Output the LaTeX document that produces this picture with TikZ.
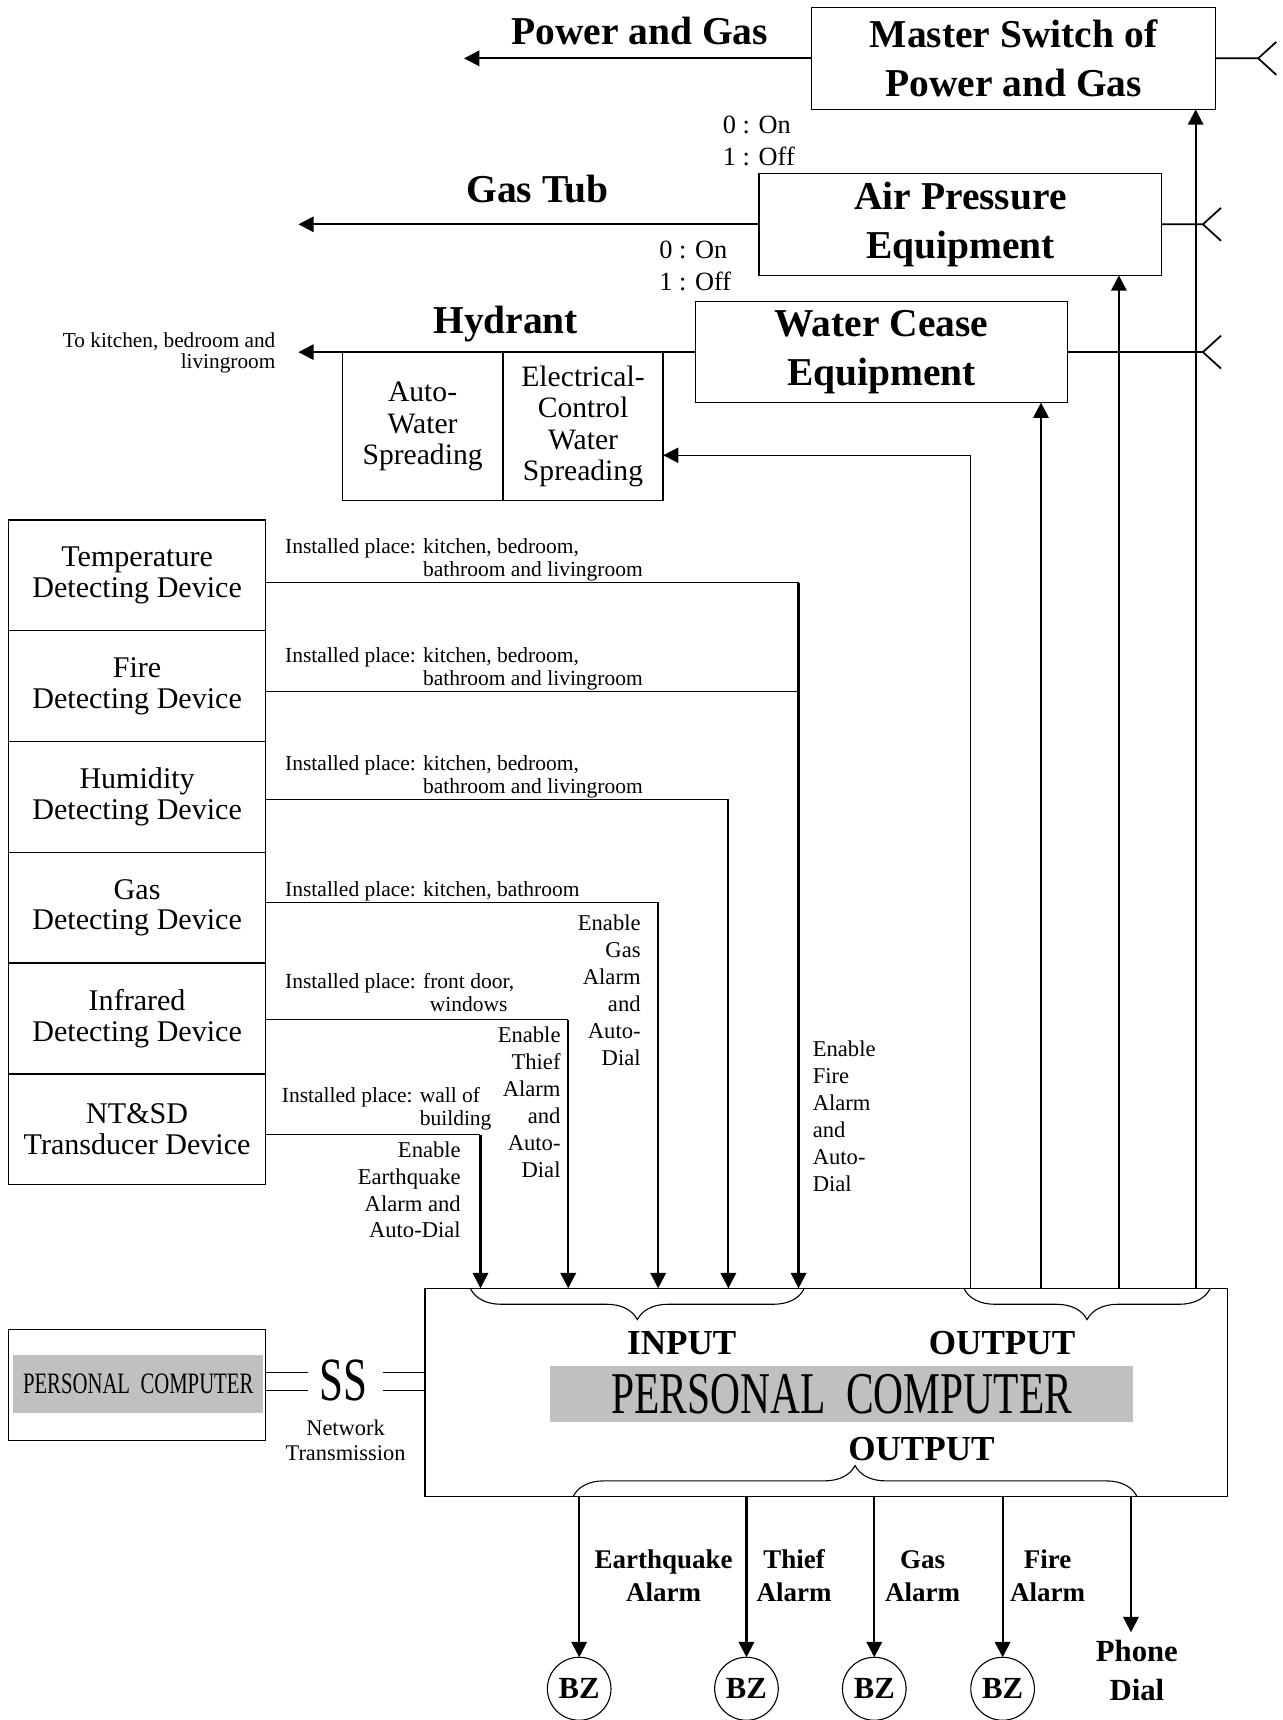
\documentclass[tikz,border=0pt]{standalone}
\usepackage{fontspec}
\setmainfont{Liberation Serif}
\newfontfamily\narrowfont{Liberation Serif}[FakeStretch=0.7]
\usetikzlibrary{arrows.meta,shapes.geometric,decorations.pathreplacing}
\definecolor{pcgray}{RGB}{192,192,192}

\begin{document}
\begin{tikzpicture}[x=0.5pt,y=-0.5pt,
  every node/.style={inner sep=0pt,outer sep=0pt},
  box/.style={draw,line width=0.6pt,align=center},
  bigbox/.style={box,font=\bfseries\fontsize{18}{22.3}\selectfont},
  devbox/.style={box,minimum width=117pt,minimum height=50.5pt,font=\fontsize{13.7}{14}\selectfont},
  subbox/.style={box,minimum width=73pt,minimum height=67.25pt,font=\fontsize{13.5}{14.2}\selectfont},
  head/.style={font=\bfseries\fontsize{18}{22}\selectfont,anchor=base},
  note/.style={font=\fontsize{9.8}{10.35}\selectfont,anchor=base west},
  enable/.style={font=\fontsize{10.3}{12.25}\selectfont},
  onoff/.style={font=\fontsize{12}{14.5}\selectfont,align=left,anchor=base west},
  alarm/.style={font=\bfseries\fontsize{12.3}{14.75}\selectfont,align=center,anchor=base},
  io/.style={font=\bfseries\fontsize{16}{16}\selectfont,anchor=base},
  bz/.style={draw,ellipse,line width=0.5pt,minimum width=29pt,minimum height=28.7pt,font=\bfseries\fontsize{14}{14}\selectfont},
  arr/.style={line width=1pt,-{Triangle[length=7pt,width=7pt]}},
  wire/.style={line width=0.5pt},
  plug/.style={line width=0.8pt},
  brcdown/.style={decorate,decoration={brace,mirror,amplitude=14pt},line width=0.5pt},
  brcup/.style={decorate,decoration={brace,amplitude=14pt},line width=0.5pt}]
  \useasboundingbox (0,0) rectangle (1169,1568);

  \node[bigbox,minimum width=184pt,minimum height=46.5pt] (master) at (924,53.2) {Master Switch of\\Power and Gas};
  \node[bigbox,minimum width=183.5pt,minimum height=46.5pt] (air) at (875.5,204.5) {Air Pressure\\Equipment};
  \node[bigbox,minimum width=169.5pt,minimum height=46pt] (water) at (803.5,321) {Water Cease\\Equipment};
  \node[head] (pgtxt) at (583,41) {Power and Gas};
  \node[head] (gttxt) at (490,185) {Gas Tub};
  \node[head] (hytxt) at (461,304) {Hydrant};
  \node[onoff] (sw1) at (659,150.5) {0 : On\\1 : Off};
  \node[onoff] (sw2) at (601,265) {0 : On\\1 : Off};
  \node[font=\fontsize{9.7}{9.7}\selectfont,align=right,anchor=base east] (totxt) at (251,336) {To kitchen, bedroom and\\livingroom};
  \node[subbox] (auto) at (385.25,388.75) {Auto-\\Water\\Spreading};
  \node[subbox] (elec) at (531.5,388.75) {Electrical-\\Control\\Water\\Spreading};

  \coordinate (pgend) at (423,53.2);
  \coordinate (gtend) at (272,204.5);
  \coordinate (hyend) at (272,321);
  \draw[arr] (master.west) -- (pgend);
  \draw[arr] (air.west) -- (gtend);
  \draw[arr] (water.west) -- (hyend);
  \coordinate (pm) at (1147,53.2);
  \coordinate (pa) at (1096.6,204.5);
  \coordinate (pw) at (1096.6,321);
  \draw[plug] (master.east) -- (pm) -- ++(16.5,-15) (pm) -- ++(16.5,15);
  \draw[plug] (air.east) -- (pa) -- ++(16.5,-15) (pa) -- ++(16.5,15);
  \draw[plug] (water.east) -- (pw) -- ++(16.5,-15) (pw) -- ++(16.5,15);

  \path (125,524.5) node[devbox] (temp) {Temperature\\Detecting Device}
    (125,625.5) node[devbox] (fire) {Fire\\Detecting Device}
    (125,726.5) node[devbox] (humid) {Humidity\\Detecting Device}
    (125,827.5) node[devbox] (gas) {Gas\\Detecting Device}
    (125,928.5) node[devbox] (infra) {Infrared\\Detecting Device}
    (125,1029.5) node[devbox] (ntsd) {NT\&SD\\Transducer Device};

  \node[note] (ntemp) at (260,504.5) {Installed place: \begin{tabular}[t]{@{}l@{}}kitchen, bedroom,\\bathroom and livingroom\end{tabular}};
  \node[note] (nfire) at (260,604) {Installed place: \begin{tabular}[t]{@{}l@{}}kitchen, bedroom,\\bathroom and livingroom\end{tabular}};
  \node[note] (nhumid) at (260,702.7) {Installed place: \begin{tabular}[t]{@{}l@{}}kitchen, bedroom,\\bathroom and livingroom\end{tabular}};
  \node[note] (ngas) at (260,817.6) {Installed place: kitchen, bathroom};
  \node[note] (ninfra) at (260,901.2) {Installed place: \begin{tabular}[t]{@{}c@{}}front door,\\windows\end{tabular}};
  \node[note] (nntsd) at (257,1005.4) {Installed place: \begin{tabular}[t]{@{}l@{}}wall of\\building\end{tabular}};

  \node[enable,align=right,anchor=base east] (egas) at (584,971) {Enable\\Gas\\Alarm\\and\\Auto-\\Dial};
  \node[enable,align=right,anchor=base east] (ethief) at (511,1073.2) {Enable\\Thief\\Alarm\\and\\Auto-\\Dial};
  \node[enable,align=right,anchor=base east] (equake) at (420,1128.5) {Enable\\Earthquake\\Alarm and\\Auto-Dial};
  \node[enable,align=left,anchor=base west] (efire) at (741,1086) {Enable\\Fire\\Alarm\\and\\Auto-\\Dial};

  \node[box,minimum width=365.65pt,minimum height=95pt] (pc) at (753.15,1269.45) {};
  \node[fill=pcgray,minimum width=265.75pt,minimum height=25.75pt,font=\narrowfont\fontsize{27}{27}\selectfont] (pctxt) at (767.25,1270.75) {PERSONAL~~COMPUTER};
  \node[io] (intxt) at (621.5,1234.6) {INPUT};
  \node[io] (outtxt) at (913.5,1234.6) {OUTPUT};
  \node[io] (outtxtb) at (840,1331) {OUTPUT};
  \draw[brcdown] (429,1175) -- (733,1175);
  \draw[brcdown] (879,1175) -- (1103,1175);
  \draw[brcup] (522.6,1364) -- (1036.4,1364);

  \coordinate (t1) at (728,531.3);
  \coordinate (t2) at (728,630.7);
  \coordinate (t3) at (664,728.8);
  \coordinate (t4) at (600,822.5);
  \coordinate (t5) at (518,929.5);
  \coordinate (t6) at (438,1034.6);
  \draw[wire] (temp.east |- t1) -- (t1);
  \draw[wire] (fire.east |- t2) -- (t2);
  \draw[wire] (humid.east |- t3) -- (t3);
  \draw[wire] (gas.east |- t4) -- (t4);
  \draw[wire] (infra.east |- t5) -- (t5);
  \draw[wire] (ntsd.east |- t6) -- (t6);
  \draw[arr] (t1) -- (t1 |- pc.north);
  \draw[arr] (t3) -- (t3 |- pc.north);
  \draw[arr] (t4) -- (t4 |- pc.north);
  \draw[arr] (t5) -- (t5 |- pc.north);
  \draw[arr] (t6) -- (t6 |- pc.north);

  \coordinate (o1) at (885,415);
  \coordinate (o2) at (949,1174.4);
  \coordinate (o3) at (1020,1174.4);
  \coordinate (o4) at (1090,1174.4);
  \draw[wire,-{Triangle[length=7pt,width=7pt]}] (o1 |- pc.north) -- (o1) -- (elec.east |- o1);
  \draw[arr] (o2) -- (o2 |- water.south);
  \draw[arr] (o3) -- (o3 |- air.south);
  \draw[arr] (o4) -- (o4 |- master.south);

  \node[box,minimum width=117pt,minimum height=50.5pt] (pcl) at (125,1262.5) {};
  \node[fill=pcgray,minimum width=114pt,minimum height=26.25pt,font=\narrowfont\fontsize{13.5}{13.5}\selectfont] (pcltxt) at (126,1261.75) {PERSONAL~~COMPUTER};
  \node[font=\narrowfont\fontsize{28}{28}\selectfont] (ss) at (313,1258.5) {SS};
  \node[font=\fontsize{10.2}{11.4}\selectfont,align=center,anchor=base] (nettxt) at (315,1331) {Network\\Transmission};
  \coordinate (sa) at (281,1251);
  \coordinate (sb) at (281,1268);
  \coordinate (sc) at (349,1251);
  \coordinate (sd) at (349,1268);
  \draw[wire] (pcl.east |- sa) -- (sa) (pcl.east |- sb) -- (sb);
  \draw[wire] (sc) -- (sc -| pc.west) (sd) -- (sd -| pc.west);

  \path (528,1539.5) node[bz] (bz1) {BZ} (680.5,1539.5) node[bz] (bz2) {BZ}
    (797,1539.5) node[bz] (bz3) {BZ} (914,1539.5) node[bz] (bz4) {BZ};
  \coordinate (ph) at (1031,1488);
  \draw[arr] (bz1 |- pc.south) -- (bz1.north);
  \draw[arr] (bz2 |- pc.south) -- (bz2.north);
  \draw[arr] (bz3 |- pc.south) -- (bz3.north);
  \draw[arr] (bz4 |- pc.south) -- (bz4.north);
  \draw[arr] (ph |- pc.south) -- (ph);
  \node[alarm] (lquake) at (605,1459.5) {Earthquake\\Alarm};
  \node[alarm] (lthief) at (724,1459.5) {Thief\\Alarm};
  \node[alarm] (lgas) at (841,1459.5) {Gas\\Alarm};
  \node[alarm] (lfire) at (955,1459.5) {Fire\\Alarm};
  \node[alarm,font=\bfseries\fontsize{14}{17.5}\selectfont] (phone) at (1036.4,1550) {Phone\\Dial};
\end{tikzpicture}
\end{document}
